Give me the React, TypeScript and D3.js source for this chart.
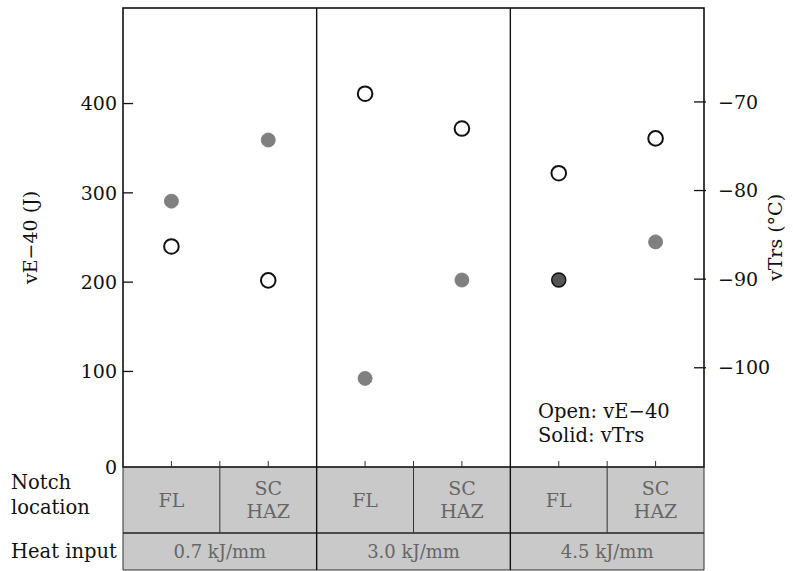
import React from "react";
import * as d3 from "d3";

const notchLocations = ["FL", "SC HAZ", "FL", "SC HAZ", "FL", "SC HAZ"];
const heatInputs = ["0.7 kJ/mm", "3.0 kJ/mm", "4.5 kJ/mm"];
const vE40 = [240, 202, 411, 372, 322, 361];
const vTrs = [-81.2, -74.3, -101.2, -90.1, -90.1, -85.8];
const darkSolid = [false, false, false, false, true, false];
const leftTicks = [0, 100, 200, 300, 400];
const rightTicks = [-70, -80, -90, -100];

const W = 793, H = 571;
const L = 123, R = 704, T = 8, B = 467;
const ROW1 = 533, ROW2 = 570;
const FONT = "'DejaVu Serif', 'Liberation Serif', serif";

export default function App() {
  const idx = d3.range(notchLocations.length);
  const x = d3.scaleBand<number>().domain(idx).range([L, R]);
  const yL = d3.scaleLinear().domain([-7, 507]).range([B, T]);
  const yR = d3.scaleLinear().domain([-111.2, -59.4]).range([B, T]);
  const bw = x.bandwidth();
  const cx = (i: number) => (x(i) as number) + bw / 2;

  return (
    <svg width={W} height={H} style={{ position: "absolute", left: 0, top: 0, background: "#fff" }}
      fontFamily={FONT}>
      {/* table background */}
      <rect x={L} y={B} width={R - L} height={ROW2 - B} fill="#c9c9c9" />
      {/* plot box */}
      <rect x={L} y={T} width={R - L} height={B - T} fill="none" stroke="#111" strokeWidth={1.6} />
      <line x1={L} x2={R} y1={ROW1} y2={ROW1} stroke="#222" strokeWidth={1.3} />
      <line x1={L} x2={R} y1={ROW2} y2={ROW2} stroke="#333" strokeWidth={1} />
      <line x1={L} x2={L} y1={B} y2={ROW2} stroke="#333" strokeWidth={1} />
      <line x1={R} x2={R} y1={B} y2={ROW2} stroke="#333" strokeWidth={1} />
      {/* section dividers */}
      {heatInputs.map((h, k) => k > 0 ? (
        <line key={"sd" + k} x1={x(k * 2) as number} x2={x(k * 2) as number} y1={T} y2={ROW2}
          stroke="#111" strokeWidth={1.4} />
      ) : null)}
      {/* sub dividers in notch row */}
      {heatInputs.map((h, k) => (
        <line key={"sub" + k} x1={x(k * 2 + 1) as number} x2={x(k * 2 + 1) as number} y1={B - 6} y2={ROW1}
          stroke="#333" strokeWidth={1} />
      ))}
      {/* category ticks */}
      {idx.map(i => (
        <line key={"ct" + i} x1={cx(i)} x2={cx(i)} y1={B - 6} y2={B} stroke="#333" strokeWidth={1} />
      ))}
      {/* left ticks */}
      {leftTicks.map(t => (
        <g key={"lt" + t}>
          {t > 0 && <line x1={L} x2={L + 10} y1={yL(t)} y2={yL(t)} stroke="#111" strokeWidth={1.3} />}
          <text x={L - 6} y={t === 0 ? B : yL(t)} dy="0.35em" textAnchor="end" fontSize={19} fill="#111">{t}</text>
        </g>
      ))}
      {/* right ticks */}
      {rightTicks.map(t => (
        <g key={"rt" + t}>
          <line x1={R - 10} x2={R + 2} y1={yR(t)} y2={yR(t)} stroke="#111" strokeWidth={1.3} />
          <text x={R + 14} y={yR(t)} dy="0.35em" textAnchor="start" fontSize={19} fill="#111">{"\u2212" + Math.abs(t)}</text>
        </g>
      ))}
      {/* axis titles */}
      <text transform={`translate(37,${(T + B) / 2}) rotate(-90)`} textAnchor="middle" fontSize={19} fill="#111">vE−40 (J)</text>
      <text transform={`translate(782,${(T + B) / 2}) rotate(-90)`} textAnchor="middle" fontSize={19} fill="#111">vTrs (°C)</text>
      {/* solid points */}
      {idx.map(i => (
        <circle key={"s" + i} cx={cx(i)} cy={yR(vTrs[i])} r={7}
          fill={darkSolid[i] ? "#555" : "#808080"} stroke={darkSolid[i] ? "#111" : "#777"} strokeWidth={darkSolid[i] ? 1.5 : 0.8} />
      ))}
      {/* open points */}
      {idx.map(i => (
        <circle key={"o" + i} cx={cx(i)} cy={yL(vE40[i])} r={7.3} fill="#fff" stroke="#111" strokeWidth={2} />
      ))}
      {/* legend */}
      <text x={538} y={418} fontSize={19.5} fill="#111">Open: vE−40</text>
      <text x={538} y={442} fontSize={19.5} fill="#111">Solid: vTrs</text>
      {/* table row labels */}
      <text x={11} y={489} fontSize={19.5} fill="#111">Notch</text>
      <text x={11} y={514} fontSize={19.5} fill="#111">location</text>
      <text x={11} y={558} fontSize={19.5} fill="#111">Heat input</text>
      {/* notch labels */}
      {idx.map(i => notchLocations[i] === "FL" ? (
        <text key={"n" + i} x={cx(i)} y={(B + ROW1) / 2} dy="0.35em" textAnchor="middle" fontSize={19} fill="#666">FL</text>
      ) : (
        <text key={"n" + i} x={cx(i)} y={(B + ROW1) / 2} textAnchor="middle" fontSize={19} fill="#666">
          <tspan x={cx(i)} dy="-0.25em">SC</tspan>
          <tspan x={cx(i)} dy="1.2em">HAZ</tspan>
        </text>
      ))}
      {/* heat input labels */}
      {heatInputs.map((h, k) => (
        <text key={"h" + k} x={((x(k * 2) as number) + (x(k * 2 + 1) as number) + bw) / 2} y={(ROW1 + ROW2) / 2}
          dy="0.35em" textAnchor="middle" fontSize={18} fill="#666">{h}</text>
      ))}
    </svg>
  );
}
